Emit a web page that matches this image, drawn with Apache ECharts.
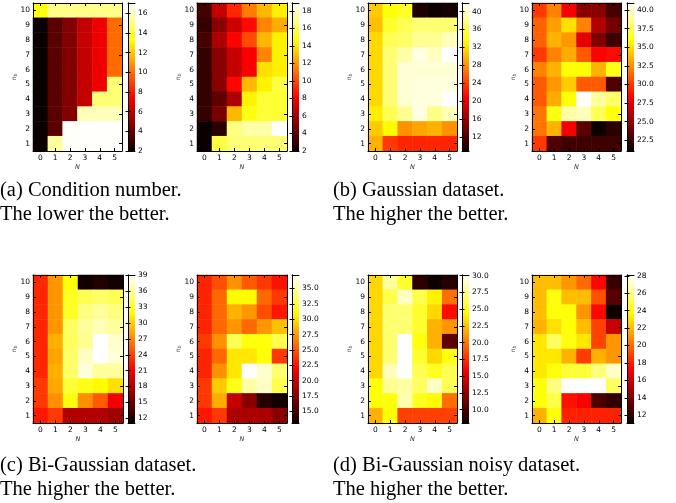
<!DOCTYPE html>
<html><head><meta charset="utf-8">
<script src="https://cdn.jsdelivr.net/npm/echarts@6/dist/echarts.min.js"></script>
<style>html,body{margin:0;padding:0;background:#fff}#c{width:676px;height:503px}</style>
</head><body><div id="c"></div>
<script>
// ---------- DATA ----------
const N_LABELS = ['0', '1', '2', '3', '4', '5'];
const NB_LABELS = ['1', '2', '3', '4', '5', '6', '7', '8', '9', '10'];

// each matrix: rows from n_b = 10 (top) down to n_b = 1 (bottom); columns N = 0..5
const condLeft = [
  [13.4, 15.3, 15.3, 15.3, 15.3, 15.3],
  [2.0, 3.8, 4.7, 6.2, 7.1, 9.9],
  [2.0, 3.8, 4.7, 6.2, 7.1, 9.9],
  [2.0, 3.8, 4.7, 6.2, 7.1, 9.9],
  [2.0, 3.8, 4.7, 6.2, 7.1, 9.9],
  [2.0, 3.8, 4.7, 6.2, 7.1, 15.0],
  [2.0, 3.8, 4.7, 6.2, 15.0, 15.0],
  [2.0, 3.8, 4.7, 16.0, 16.0, 16.0],
  [2.0, 3.8, 17.0, 17.0, 17.0, 17.0],
  [2.0, 15.6, 17.0, 17.0, 17.0, 17.0]
];
const condRight = [
  [3.5, 6.7, 9.1, 11.3, 12.8, 14.2],
  [3.1, 5.2, 6.9, 8.4, 11.5, 12.5],
  [3.5, 6.1, 8.2, 10.1, 12.8, 14.2],
  [3.1, 5.2, 6.7, 8.0, 11.5, 14.2],
  [3.1, 5.2, 6.7, 8.0, 13.8, 14.2],
  [3.1, 5.2, 8.3, 12.8, 14.3, 15.7],
  [3.1, 4.1, 6.1, 14.3, 15.5, 15.5],
  [3.1, 4.8, 12.8, 14.9, 15.5, 15.5],
  [2.0, 2.8, 16.8, 17.4, 17.4, 18.9],
  [2.0, 15.7, 16.6, 16.6, 16.6, 16.6]
];
const gaussLeft = [
  [31.0, 33.7, 34.7, 10.0, 9.2, 9.6],
  [30.4, 35.0, 36.3, 37.3, 37.3, 37.3],
  [31.7, 36.3, 36.9, 38.3, 38.3, 39.6],
  [31.7, 37.3, 39.0, 40.9, 39.9, 41.9],
  [31.7, 37.3, 40.5, 40.5, 40.5, 40.5],
  [31.7, 37.3, 40.5, 40.8, 40.8, 40.8],
  [31.7, 37.3, 40.5, 40.8, 40.8, 41.9],
  [32.7, 36.3, 38.3, 40.9, 38.0, 39.6],
  [31.0, 33.5, 28.1, 29.1, 29.7, 28.1],
  [29.7, 23.8, 22.8, 22.8, 22.8, 22.8]
];
const gaussRight = [
  [30.0, 32.2, 28.0, 24.8, 24.8, 22.8],
  [31.2, 33.0, 35.0, 32.2, 26.0, 24.2],
  [31.2, 33.6, 32.8, 27.6, 24.5, 22.6],
  [30.0, 32.2, 33.4, 31.0, 28.3, 28.6],
  [32.2, 33.6, 36.0, 36.0, 33.6, 36.4],
  [31.0, 32.8, 34.4, 31.0, 31.0, 23.1],
  [31.0, 33.4, 36.0, 40.9, 39.0, 38.0],
  [31.8, 36.2, 39.2, 39.6, 37.6, 36.0],
  [31.8, 33.6, 28.0, 23.4, 21.1, 22.0],
  [30.0, 23.1, 22.6, 22.6, 22.6, 22.6]
];
const biLeft = [
  [22.9, 27.6, 32.1, 11.3, 12.0, 11.3],
  [22.9, 27.6, 33.0, 34.3, 34.9, 34.3],
  [22.9, 27.6, 33.0, 35.5, 36.3, 35.5],
  [22.9, 27.6, 34.6, 36.3, 37.1, 36.3],
  [22.9, 28.7, 34.6, 36.0, 39.1, 37.7],
  [22.9, 28.2, 34.9, 37.4, 39.1, 38.0],
  [22.9, 28.7, 34.9, 38.0, 36.3, 36.3],
  [23.7, 28.4, 33.5, 32.6, 31.9, 30.7],
  [23.7, 27.3, 32.4, 27.3, 25.1, 20.9],
  [22.3, 23.7, 18.1, 18.1, 18.1, 17.3]
];
const biRight = [
  [23.2, 24.7, 27.1, 25.1, 23.9, 22.5],
  [23.2, 25.6, 31.0, 31.0, 25.6, 23.9],
  [23.2, 25.6, 28.3, 27.3, 24.7, 22.7],
  [23.2, 25.6, 27.3, 25.6, 27.3, 28.8],
  [23.9, 27.1, 33.1, 31.4, 31.4, 32.9],
  [23.2, 25.6, 30.2, 30.2, 31.2, 23.9],
  [23.2, 27.1, 30.2, 37.2, 36.0, 33.8],
  [23.9, 29.2, 31.6, 35.0, 35.8, 32.9],
  [23.9, 28.1, 19.8, 17.7, 14.1, 13.3],
  [22.7, 23.9, 18.9, 18.9, 18.9, 17.7]
];
const noisyLeft = [
  [23.2, 27.9, 25.5, 9.1, 8.1, 8.9],
  [23.2, 26.1, 28.8, 26.1, 24.1, 19.7],
  [23.2, 27.0, 27.0, 25.5, 23.2, 16.4],
  [23.2, 27.0, 27.0, 25.5, 21.9, 21.0],
  [23.2, 27.0, 30.1, 24.8, 21.9, 10.7],
  [23.2, 27.0, 30.1, 25.5, 23.2, 24.8],
  [23.2, 28.6, 30.1, 26.3, 25.2, 26.3],
  [24.6, 27.7, 28.1, 26.6, 28.8, 26.3],
  [24.6, 24.8, 28.3, 25.2, 24.4, 19.7],
  [21.9, 24.6, 18.2, 18.2, 18.2, 18.2]
];
const noisyRight = [
  [22.1, 22.1, 21.1, 20.0, 17.4, 12.3],
  [22.1, 24.0, 22.1, 22.1, 19.3, 13.1],
  [22.1, 23.9, 23.9, 21.1, 17.4, 11.2],
  [21.8, 23.0, 23.9, 22.1, 19.0, 15.9],
  [23.2, 25.4, 24.0, 23.2, 19.0, 21.1],
  [23.2, 23.2, 21.8, 18.8, 21.8, 21.1],
  [23.2, 23.9, 24.7, 24.7, 25.9, 27.1],
  [23.9, 25.9, 28.1, 28.1, 28.1, 25.4],
  [23.9, 25.0, 17.7, 17.2, 12.8, 12.1],
  [21.8, 23.9, 18.1, 18.1, 18.1, 18.1]
];

// colorbar ranges and tick labels
const condLeftRange = [2, 17.05];   const condLeftTicks = [2, 4, 6, 8, 10, 12, 14, 16];
const condRightRange = [2, 18.9];   const condRightTicks = [2, 4, 6, 8, 10, 12, 14, 16, 18];
const gaussLeftRange = [9.0, 41.9]; const gaussLeftTicks = [12, 16, 20, 24, 28, 32, 36, 40];
const gaussRightRange = [21.05, 40.95]; const gaussRightTicks = [22.5, 25.0, 27.5, 30.0, 32.5, 35.0, 37.5, 40.0];
const biLeftRange = [11.1, 39.1];   const biLeftTicks = [12, 15, 18, 21, 24, 27, 30, 33, 36, 39];
const biRightRange = [13.1, 37.2];  const biRightTicks = [15.0, 17.5, 20.0, 22.5, 25.0, 27.5, 30.0, 32.5, 35.0];
const noisyLeftRange = [8.0, 30.1]; const noisyLeftTicks = [10.0, 12.5, 15.0, 17.5, 20.0, 22.5, 25.0, 27.5, 30.0];
const noisyRightRange = [11.1, 28.1]; const noisyRightTicks = [12, 14, 16, 18, 20, 22, 24, 26, 28];

const captionA = '(a) Condition number.\nThe lower the better.';
const captionB = '(b) Gaussian dataset.\nThe higher the better.';
const captionC = '(c) Bi-Gaussian dataset.\nThe higher the better.';
const captionD = '(d) Bi-Gaussian noisy dataset.\nThe higher the better.';

// ---------- STYLE / LAYOUT ----------
const panels = [
  {v: condLeft, r: condLeftRange, t: condLeftTicks, dec: 0, x: 33, y: 3, w: 89, cb: 128},
  {v: condRight, r: condRightRange, t: condRightTicks, dec: 0, x: 197, y: 3, w: 90, cb: 292},
  {v: gaussLeft, r: gaussLeftRange, t: gaussLeftTicks, dec: 0, x: 368, y: 3, w: 89, cb: 462},
  {v: gaussRight, r: gaussRightRange, t: gaussRightTicks, dec: 1, x: 532, y: 3, w: 89, cb: 627},
  {v: biLeft, r: biLeftRange, t: biLeftTicks, dec: 0, x: 33, y: 275, w: 90, cb: 128},
  {v: biRight, r: biRightRange, t: biRightTicks, dec: 1, x: 197, y: 275, w: 90, cb: 292},
  {v: noisyLeft, r: noisyLeftRange, t: noisyLeftTicks, dec: 1, x: 368, y: 275, w: 89, cb: 462},
  {v: noisyRight, r: noisyRightRange, t: noisyRightTicks, dec: 0, x: 532, y: 275, w: 89, cb: 627}
];
const H = 148, CBW = 7;
const FONT = 'DejaVu Sans';
const TICKFS = 7.5;

function hotColor(t) {
  const c = v => Math.max(0, Math.min(1, v));
  const r = c(0.0416 + (1 - 0.0416) * t / 0.365079);
  const g = c((t - 0.365079) / (0.746032 - 0.365079));
  const b = c((t - 0.746032) / (1 - 0.746032));
  return 'rgb(' + Math.round(r * 255) + ',' + Math.round(g * 255) + ',' + Math.round(b * 255) + ')';
}
const HOT = [];
for (let i = 0; i <= 64; i++) HOT.push(hotColor(i / 64));
const HOT_STOPS = HOT.map((c, i) => ({offset: i / 64, color: c}));

const line = {show: true, lineStyle: {color: '#000', width: 1}};
const option = {
  animation: false,
  backgroundColor: '#fff',
  grid: [], xAxis: [], yAxis: [], series: [], visualMap: [],
  graphic: []
};

panels.forEach((p, k) => {
  const gi = option.grid.length;
  option.grid.push({left: p.x, top: p.y, width: p.w, height: H, show: false});
  option.grid.push({left: p.cb, top: p.y, width: CBW, height: H, show: false});

  // heatmap axes
  const xb = option.xAxis.length;
  option.xAxis.push({
    type: 'category', gridIndex: gi, data: N_LABELS, position: 'bottom', z: 10,
    axisLine: line,
    axisTick: {show: true, inside: true, length: 3, alignWithLabel: true, lineStyle: {color: '#000'}},
    axisLabel: {fontSize: TICKFS, color: '#000', margin: 3, fontFamily: FONT},
    splitLine: {show: false},
    name: 'N', nameLocation: 'middle', nameGap: 13, nameMoveOverlap: false,
    nameTextStyle: {fontStyle: 'italic', fontSize: 6.5, fontFamily: FONT, color: '#333'}
  });
  option.xAxis.push({
    type: 'category', gridIndex: gi, data: N_LABELS, position: 'top', z: 10,
    axisLine: line,
    axisTick: {show: true, inside: true, length: 3, alignWithLabel: true, lineStyle: {color: '#000'}},
    axisLabel: {show: false}, splitLine: {show: false}
  });
  const yl = option.yAxis.length;
  option.yAxis.push({
    type: 'category', gridIndex: gi, data: NB_LABELS, position: 'left', z: 10,
    axisLine: line,
    axisTick: {show: true, inside: true, length: 3, alignWithLabel: true, lineStyle: {color: '#000'}},
    axisLabel: {fontSize: TICKFS, color: '#000', margin: 3, fontFamily: FONT},
    splitLine: {show: false},
    name: '{i|n}{s|b}', nameLocation: 'middle', nameGap: 15, nameMoveOverlap: false,
    nameTextStyle: {color: '#444', rich: {
      i: {fontStyle: 'italic', fontSize: 6, fontFamily: FONT, color: '#444'},
      s: {fontStyle: 'italic', fontSize: 4.5, fontFamily: FONT, color: '#444', padding: [2, 0, 0, 0]}
    }}
  });
  option.yAxis.push({
    type: 'category', gridIndex: gi, data: NB_LABELS, position: 'right', z: 10,
    axisLine: line,
    axisTick: {show: true, inside: true, length: 3, alignWithLabel: true, lineStyle: {color: '#000'}},
    axisLabel: {show: false}, splitLine: {show: false}
  });

  const data = [];
  p.v.forEach((row, ri) => {
    const yIdx = NB_LABELS.length - 1 - ri;
    row.forEach((val, ci) => data.push([ci, yIdx, val]));
  });
  const si = option.series.length;
  option.series.push({
    type: 'heatmap', xAxisIndex: xb, yAxisIndex: yl, data: data,
    itemStyle: {borderWidth: 0}, emphasis: {disabled: true}, progressive: 0
  });
  option.visualMap.push({
    type: 'continuous', show: false, seriesIndex: si, dimension: 2,
    min: p.r[0], max: p.r[1], inRange: {color: HOT}
  });

  // colorbar axes
  const cxb = option.xAxis.length;
  option.xAxis.push({type: 'value', gridIndex: gi + 1, min: 0, max: 1, position: 'bottom', z: 10,
    axisLine: line, axisTick: {show: false}, axisLabel: {show: false}, splitLine: {show: false}});
  option.xAxis.push({type: 'value', gridIndex: gi + 1, min: 0, max: 1, position: 'top', z: 10,
    axisLine: line, axisTick: {show: false}, axisLabel: {show: false}, splitLine: {show: false}});
  const cyr = option.yAxis.length;
  const fmt = v => p.dec ? Number(v).toFixed(p.dec) : String(Math.round(v));
  option.yAxis.push({type: 'value', gridIndex: gi + 1, min: p.r[0], max: p.r[1], position: 'right', z: 10,
    axisLine: line,
    axisTick: {show: true, inside: true, length: 2.5, customValues: p.t, lineStyle: {color: '#000'}},
    axisLabel: {customValues: p.t, formatter: fmt, fontSize: TICKFS, color: '#000', margin: 3, fontFamily: FONT},
    splitLine: {show: false}});
  option.yAxis.push({type: 'value', gridIndex: gi + 1, min: p.r[0], max: p.r[1], position: 'left', z: 10,
    axisLine: line,
    axisTick: {show: true, inside: true, length: 2.5, customValues: p.t, lineStyle: {color: '#000'}},
    axisLabel: {show: false}, splitLine: {show: false}});
  option.series.push({
    type: 'custom', xAxisIndex: cxb, yAxisIndex: cyr,
    data: [[0, p.r[0], 1, p.r[1]]],
    encode: {x: [0, 2], y: [1, 3]},
    renderItem: function (params, api) {
      const a = api.coord([api.value(0), api.value(1)]);
      const b = api.coord([api.value(2), api.value(3)]);
      return {type: 'rect', shape: {x: a[0], y: b[1], width: b[0] - a[0], height: a[1] - b[1]},
        style: {fill: new echarts.graphic.LinearGradient(0, 1, 0, 0, HOT_STOPS)}};
    }
  });
});

const capStyle = t => ({text: t, font: '20.5px "Liberation Serif"', lineHeight: 24, fill: '#000'});
option.graphic = [
  {type: 'text', left: 0, top: 179, style: capStyle(captionA)},
  {type: 'text', left: 333, top: 179, style: capStyle(captionB)},
  {type: 'text', left: 0, top: 454, style: capStyle(captionC)},
  {type: 'text', left: 333, top: 454, style: capStyle(captionD)}
];

const chart = echarts.init(document.getElementById('c'), null, {renderer: 'canvas'});
chart.setOption(option);
</script></body></html>
